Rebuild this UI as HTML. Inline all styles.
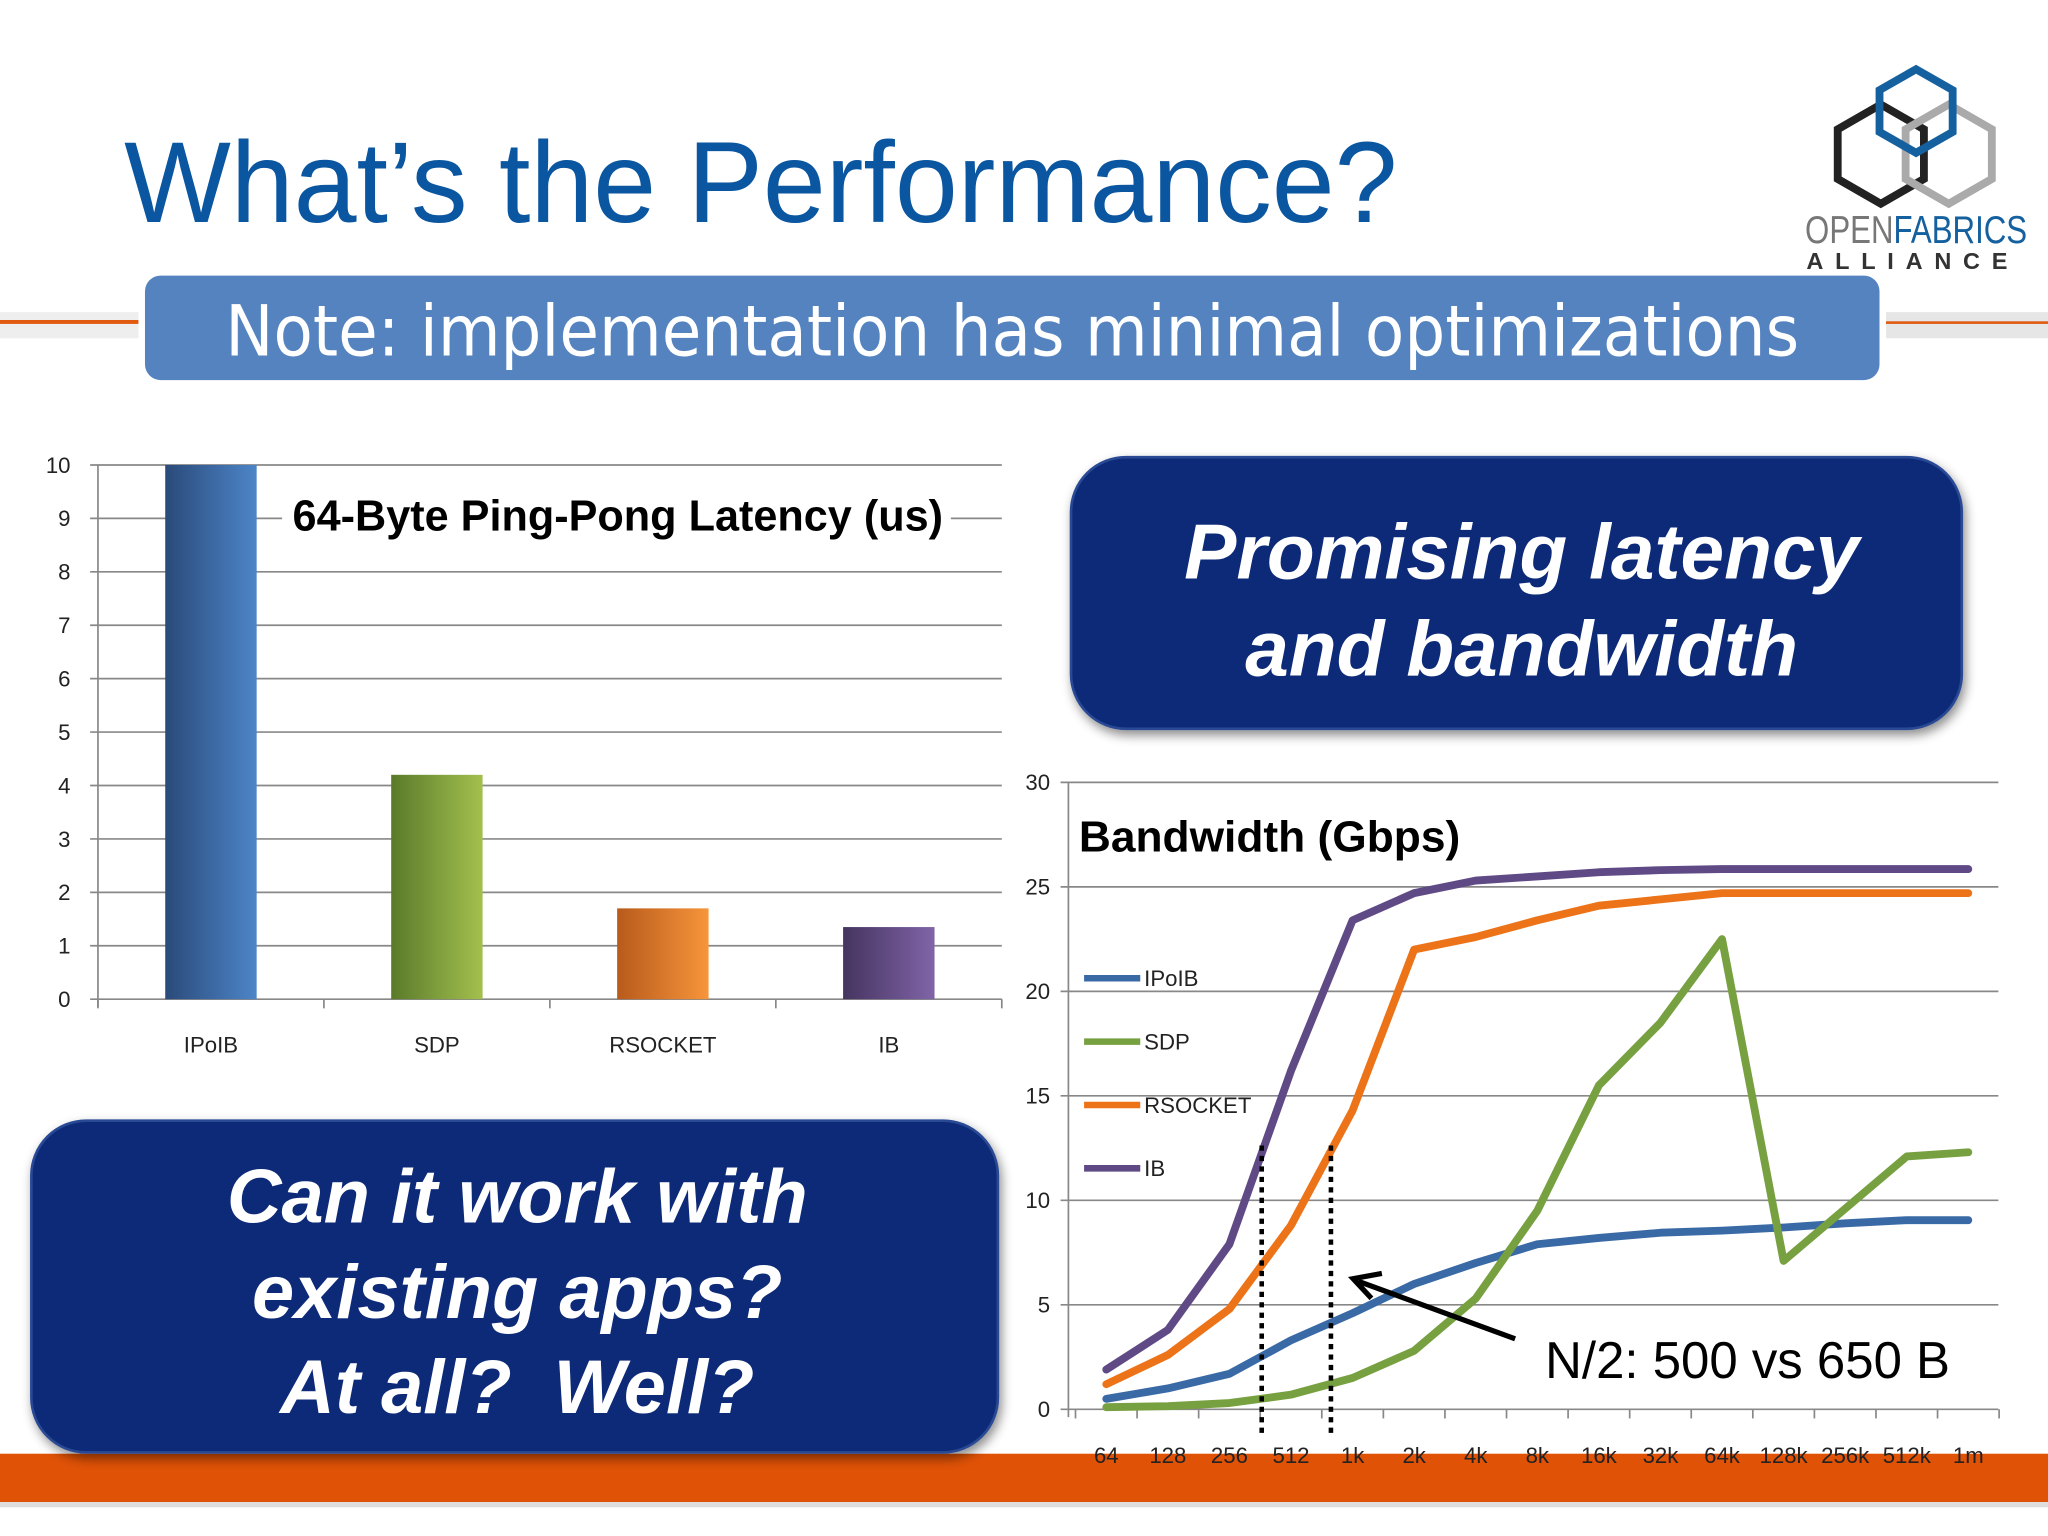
<!DOCTYPE html>
<html><head><meta charset="utf-8"><style>
html,body{margin:0;padding:0;background:#fff;}
svg{display:block;}
</style></head><body>
<svg id="slide" width="2048" height="1536" viewBox="0 0 1568 1176" xmlns="http://www.w3.org/2000/svg" font-family="'Liberation Sans', sans-serif">
<defs>
<linearGradient id="gBlue" x1="0" x2="1"><stop offset="0" stop-color="#2a4a7a"/><stop offset="1" stop-color="#4d85c8"/></linearGradient>
<linearGradient id="gGreen" x1="0" x2="1"><stop offset="0" stop-color="#5a7a2a"/><stop offset="1" stop-color="#a3c04e"/></linearGradient>
<linearGradient id="gOrange" x1="0" x2="1"><stop offset="0" stop-color="#b85a1c"/><stop offset="1" stop-color="#f7953a"/></linearGradient>
<linearGradient id="gPurple" x1="0" x2="1"><stop offset="0" stop-color="#45345f"/><stop offset="1" stop-color="#8064a8"/></linearGradient>
<filter id="sh" x="-5%" y="-5%" width="110%" height="115%"><feDropShadow dx="2" dy="4" stdDeviation="4" flood-color="#000" flood-opacity="0.45"/></filter>
</defs>

<!-- header -->
<text x="95" y="170" font-size="88" fill="#0b56a0" textLength="975" lengthAdjust="spacingAndGlyphs">What’s the Performance?</text>
<g>
  <polygon points="1440,80 1473,99 1473,137 1440,156 1407,137 1407,99" fill="none" stroke="#222" stroke-width="6"/>
  <polygon points="1492,80 1525,99 1525,137 1492,156 1459,137 1459,99" fill="none" stroke="#aaa" stroke-width="6"/>
  <polygon points="1467,53 1495,69 1495,101 1467,117 1439,101 1439,69" fill="none" stroke="#15609e" stroke-width="6"/>
  <text x="1382" y="186" font-size="30" fill="#777" textLength="170" lengthAdjust="spacingAndGlyphs">OPEN<tspan fill="#15609e">FABRICS</tspan></text>
  <text x="1383" y="206" font-size="18" fill="#333" letter-spacing="9" font-weight="bold">ALLIANCE</text>
</g>
<rect x="0" y="239" width="106" height="20" fill="#eee"/>
<rect x="0" y="245" width="106" height="3" fill="#e05a10"/>
<rect x="1444" y="239" width="124" height="20" fill="#e6e6e6"/>
<rect x="1444" y="246" width="124" height="2" fill="#e05a10"/>
<rect x="111" y="211" width="1328" height="80" rx="12" fill="#5483c0"/>
<text x="775" y="272" font-size="54" fill="#fff" text-anchor="middle" font-family="'DejaVu Sans','Liberation Sans',sans-serif" textLength="1205" lengthAdjust="spacingAndGlyphs">Note: implementation has minimal optimizations</text>

<!-- bottom band -->
<rect x="0" y="1113" width="1568" height="37" fill="#e05206"/>
<rect x="0" y="1150" width="1568" height="4" fill="#ddd"/>

<!-- latency chart -->
<g id="latency"></g>

<!-- callout boxes -->
<g filter="url(#sh)">
  <rect x="820" y="350" width="682" height="208" rx="42" fill="#0f2c78" stroke="#2a4a95" stroke-width="2"/>
</g>
<text x="1165" y="443" font-size="60" font-weight="bold" font-style="italic" fill="#fff" text-anchor="middle">Promising latency</text>
<text x="1165" y="517" font-size="60" font-weight="bold" font-style="italic" fill="#fff" text-anchor="middle">and bandwidth</text>

<!-- bandwidth chart -->
<g id="bandwidth"></g>

<g filter="url(#sh)">
  <rect x="24" y="858" width="740" height="254" rx="42" fill="#0f2c78" stroke="#2a4a95" stroke-width="2"/>
</g>
<text x="396" y="936" font-size="58" font-weight="bold" font-style="italic" fill="#fff" text-anchor="middle">Can it work with</text>
<text x="396" y="1009" font-size="58" font-weight="bold" font-style="italic" fill="#fff" text-anchor="middle">existing apps?</text>
<text x="396" y="1082" font-size="58" font-weight="bold" font-style="italic" fill="#fff" text-anchor="middle" xml:space="preserve">At all?  Well?</text>
</svg>
<script>
const NS='http://www.w3.org/2000/svg';
const latCats=['IPoIB','SDP','RSOCKET','IB'];
const latVals=[10,4.2,1.7,1.35];
const latTicks=[0,1,2,3,4,5,6,7,8,9,10];
const latFills=['url(#gBlue)','url(#gGreen)','url(#gOrange)','url(#gPurple)'];

const bwCats=['64','128','256','512','1k','2k','4k','8k','16k','32k','64k','128k','256k','512k','1m'];
const bwTicks=[0,5,10,15,20,25,30];
const bwSeriesNames=['IPoIB','SDP','RSOCKET','IB'];
const bwIPoIB=[0.5,1.0,1.7,3.3,4.6,6.0,7.0,7.9,8.2,8.45,8.55,8.7,8.9,9.05,9.05];
const bwSDP=[0.1,0.15,0.3,0.7,1.5,2.8,5.3,9.5,15.5,18.5,22.5,7.1,9.6,12.1,12.3];
const bwRSOCKET=[1.2,2.6,4.8,8.8,14.3,22.0,22.6,23.4,24.1,24.4,24.7,24.7,24.7,24.7,24.7];
const bwIB=[1.9,3.8,7.9,16.2,23.4,24.7,25.3,25.5,25.7,25.8,25.85,25.85,25.85,25.85,25.85];
const bwColors=['#3a6aa5','#77a040','#ec7318','#5f4a86'];

function mk(parent,tag,attrs,text){const e=document.createElementNS(NS,tag);for(const k in attrs)e.setAttribute(k,attrs[k]);if(text!==undefined)e.textContent=text;parent.appendChild(e);return e;}

// Latency chart
(function(){
  const g=document.getElementById('latency');
  const x0=75,x1=767,y0=765,y1=356;
  const yS=v=>y0-(v/10)*(y0-y1);
  const band=(x1-x0)/latCats.length;
  latTicks.forEach(t=>{
    const l=mk(g,'line',{x1:x0-6,x2:x1,y1:yS(t),y2:yS(t),stroke:'#888','stroke-width':1.3});
    
    
    const tx=mk(g,'text',{x:54,y:yS(t)+6,'font-size':17,'text-anchor':'end',fill:'#222'},String(t));
    
    
  });
  mk(g,'line',{x1:x0,x2:x0,y1:y1,y2:y0+6,stroke:'#888','stroke-width':1.3});
  for(let i=0;i<=latCats.length;i++) mk(g,'line',{x1:x0+i*band,x2:x0+i*band,y1:y0,y2:y0+7,stroke:'#888','stroke-width':1.3});
  latCats.forEach((c,i)=>{
    const cx=x0+band*(i+0.5);
    const r=mk(g,'rect',{x:cx-35,y:yS(latVals[i]),width:70,height:y0-yS(latVals[i]),fill:latFills[i]});
    
    
    const t=mk(g,'text',{x:cx,y:806,'font-size':17,'text-anchor':'middle',fill:'#222'},c);
    
    
  });
  mk(g,'rect',{x:216,y:372,width:512,height:46,fill:'#fff'});
  const tt=mk(g,'text',{x:224,y:406,'font-size':33,'font-weight':'bold',fill:'#000',textLength:498,lengthAdjust:'spacingAndGlyphs'},'64-Byte Ping-Pong Latency (us)');
  
  
})();

// Bandwidth chart
(function(){
  const g=document.getElementById('bandwidth');
  const x0=818,x1=1530,y0=1079,y1=599;
  const yS=v=>y0-(v/30)*(y0-y1);
  const step=(1507-847)/(bwCats.length-1);
  const xS=i=>847+step*i;
  bwTicks.forEach(t=>{
    mk(g,'line',{x1:x0-6,x2:x1,y1:yS(t),y2:yS(t),stroke:'#888','stroke-width':1.3});
    const tx=mk(g,'text',{x:804,y:yS(t)+6,'font-size':17,'text-anchor':'end',fill:'#222'},String(t));
    
    
  });
  mk(g,'line',{x1:x0,x2:x0,y1:y1,y2:y0+6,stroke:'#888','stroke-width':1.3});
  for(let i=0;i<=bwCats.length;i++) mk(g,'line',{x1:xS(i)-step/2,x2:xS(i)-step/2,y1:y0,y2:y0+7,stroke:'#888','stroke-width':1.3});
  bwCats.forEach((c,i)=>{
    const t=mk(g,'text',{x:xS(i),y:1120,'font-size':17,'text-anchor':'middle',fill:'#222'},c);
    
    
  });
  const tt=mk(g,'text',{x:826,y:652,'font-size':33,'font-weight':'bold',fill:'#000',textLength:292,lengthAdjust:'spacingAndGlyphs'},'Bandwidth (Gbps)');
  
  
  const series=[bwIPoIB,bwSDP,bwRSOCKET,bwIB];
  series.forEach((s,k)=>{
    const p=mk(g,'polyline',{points:s.map((v,i)=>xS(i)+','+yS(v)).join(' '),fill:'none',stroke:bwColors[k],'stroke-width':6,'stroke-linejoin':'round','stroke-linecap':'round'});
    
    
    const ly=749+k*48.5;
    const le=mk(g,'line',{x1:830,x2:873,y1:ly,y2:ly,stroke:bwColors[k],'stroke-width':5});
    
    
    const lt=mk(g,'text',{x:876,y:ly+6,'font-size':17,fill:'#222'},bwSeriesNames[k]);
    
    
  });
  mk(g,'line',{x1:966,x2:966,y1:877,y2:1097,stroke:'#000','stroke-width':3.5,'stroke-dasharray':'4 4'});
  mk(g,'line',{x1:1019,x2:1019,y1:877,y2:1097,stroke:'#000','stroke-width':3.5,'stroke-dasharray':'4 4'});
  mk(g,'line',{x1:1160,y1:1025,x2:1040,y2:981,stroke:'#000','stroke-width':4});
  mk(g,'polyline',{points:'1058,975 1036,979 1050,994',fill:'none',stroke:'#000','stroke-width':4});
  const an=mk(g,'text',{x:1183,y:1055,'font-size':40,fill:'#000',textLength:310,lengthAdjust:'spacingAndGlyphs'},'N/2: 500 vs 650 B');
  
  
})();
</script>
</body></html>
